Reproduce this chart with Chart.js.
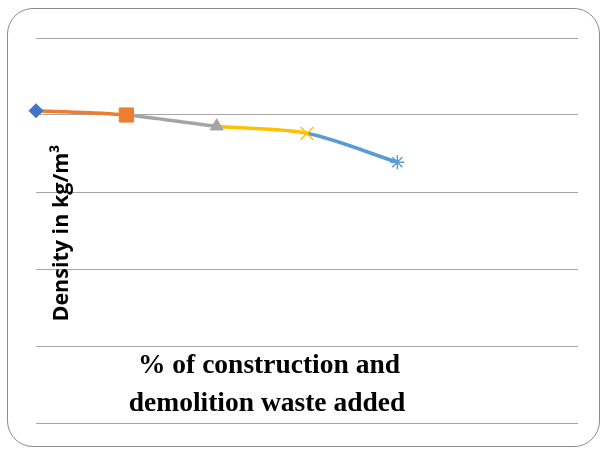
<!DOCTYPE html>
<html>
<head>
<meta charset="utf-8">
<script src="https://cdn.jsdelivr.net/npm/chart.js@4"></script>
<style>
  html, body { margin: 0; padding: 0; background: #fff; }
  #wrap { position: relative; width: 603px; height: 450px; }
  #frame {
    position: absolute; left: 7px; top: 8px; width: 593px; height: 439px;
    border: 1px solid #8c8c8c; border-radius: 26px; box-sizing: border-box;
  }
  canvas { position: absolute; left: 0; top: 0; }
</style>
</head>
<body>
<div id="wrap">
  <div id="frame"></div>
  <canvas id="densityChart" width="603" height="450"></canvas>
</div>
<script>
// Data
const wastePercent = [0, 5, 10, 15, 20];
const density = [2028, 2000, 1927, 1881, 1693];
const yTicks = [0, 500, 1000, 1500, 2000, 2500];

const pointStyles = ['rectRot', 'rect', 'triangle', 'crossRot', 'star'];
const pointColors = ['#4472C4', '#ED7D31', '#A5A5A5', '#FFC000', '#5B9BD5'];
const pointSizes = [7, 10, 7.5, 9, 7];

const xTitle = ['% of construction and', 'demolition waste added'];
const yTitle = 'Density in kg/m\u00B3';

document.addEventListener('DOMContentLoaded', () => {
  // titles sit on top of the plot, so draw them by hand
  const titles = {
    id: 'titles',
    afterDraw(chart) {
      const ctx = chart.ctx;
      ctx.save();
      ctx.fillStyle = '#000';
      ctx.textAlign = 'center';
      ctx.textBaseline = 'middle';
      ctx.font = 'bold 27.5px "Liberation Serif", "Times New Roman", serif';
      ctx.fillText(xTitle[0], 269, 366);
      ctx.fillText(xTitle[1], 267, 404);

      ctx.translate(62, 233);
      ctx.rotate(-Math.PI / 2);
      ctx.font = 'bold 21.5px "Open Sans", sans-serif';
      ctx.fillText(yTitle, 0, 0);
      ctx.restore();
    }
  };

  const ctx = document.getElementById('densityChart').getContext('2d');
  new Chart(ctx, {
    type: 'line',
    data: {
      datasets: [{
        data: wastePercent.map((x, i) => ({ x, y: density[i] })),
        borderWidth: 3.5,
        tension: 0.3,
        clip: false,
        segment: {
          borderColor: c => pointColors[c.p1DataIndex]
        },
        pointStyle: pointStyles,
        pointBackgroundColor: pointColors,
        pointBorderColor: pointColors,
        pointBorderWidth: [1, 1, 1, 1.5, 1.5],
        pointRadius: pointSizes,
        pointHoverRadius: pointSizes
      }]
    },
    options: {
      responsive: false,
      animation: false,
      events: [],
      layout: { padding: { left: 36, right: 25, top: 38, bottom: 27 } },
      plugins: { legend: { display: false }, tooltip: { enabled: false } },
      scales: {
        x: { type: 'linear', min: 0, max: 30, display: false },
        y: {
          min: yTicks[0],
          max: yTicks[yTicks.length - 1],
          afterBuildTicks: s => { s.ticks = yTicks.map(v => ({ value: v })); },
          afterFit: s => { s.width = 0; },
          ticks: { display: false },
          border: { display: false },
          grid: { color: '#a6a6a6', lineWidth: 1, drawTicks: false }
        }
      }
    },
    plugins: [titles]
  });
});
</script>
</body>
</html>
